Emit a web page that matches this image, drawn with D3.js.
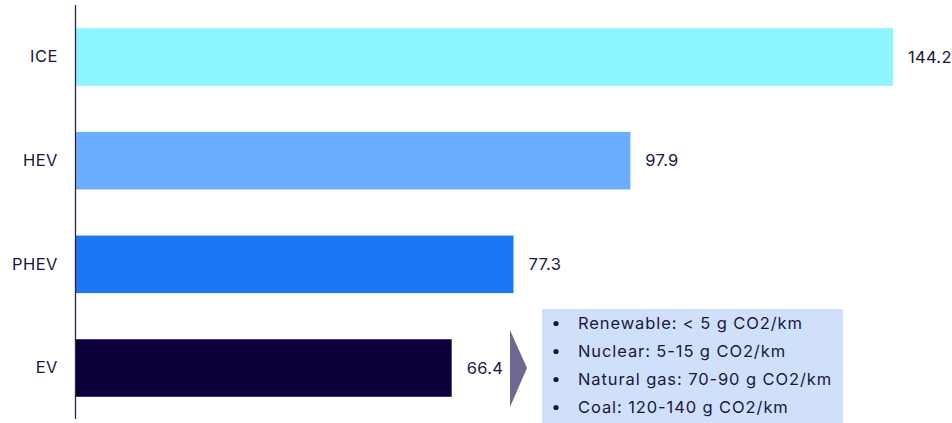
<!DOCTYPE html>
<html>
<head>
<meta charset="utf-8">
<script src="https://cdn.jsdelivr.net/npm/d3@7"></script>
<style>
  html, body { margin: 0; padding: 0; background: #fff; }
  svg { display: block; font-family: Inter, "Noto Sans", sans-serif; }
</style>
</head>
<body>
<svg id="chart" width="952" height="423"></svg>
<script>
// Lifecycle CO2 emissions by powertrain (g CO2/km)
const categories = ["ICE", "HEV", "PHEV", "EV"];
const values = [144.2, 97.9, 77.3, 66.4];
const barColors = ["#8cf5ff", "#6aaeff", "#1a76f3", "#0d003a"];
const gridMixNotes = [
  "Renewable: < 5 g CO2/km",
  "Nuclear: 5-15 g CO2/km",
  "Natural gas: 70-90 g CO2/km",
  "Coal: 120-140 g CO2/km"
];

const textColor = "#1b1641";
const font = "Inter, 'Noto Sans', sans-serif";
const svg = d3.select("#chart");

const x = d3.scaleLinear().domain([0, 144.2]).range([75, 893]);
const y = d3.scaleBand().domain(categories).range([5, 420])
  .paddingInner(0.445).paddingOuter(0.224);

// bars
svg.append("g").selectAll("rect")
  .data(categories)
  .join("rect")
  .attr("x", x(0))
  .attr("y", d => y(d))
  .attr("width", (d, i) => x(values[i]) - x(0))
  .attr("height", y.bandwidth())
  .attr("fill", (d, i) => barColors[i]);

// category axis
const axis = svg.append("g")
  .attr("transform", `translate(${x(0)},0)`)
  .call(d3.axisLeft(y).tickSize(0).tickPadding(17));
axis.attr("font-size", null).attr("font-family", null);
axis.select(".domain").attr("d", "M0.5,5V419").attr("stroke", "#2a2550").attr("stroke-width", 1.3);
axis.selectAll("text")
  .style("font-size", "16.5px")
  .style("font-family", font)
  .style("letter-spacing", "0.5px")
  .attr("fill", textColor);

// value labels
svg.append("g").selectAll("text")
  .data(categories)
  .join("text")
  .attr("x", (d, i) => x(values[i]) + 15)
  .attr("y", d => y(d) + y.bandwidth() / 2)
  .attr("dy", "0.35em")
  .style("font-size", "16.5px")
  .style("letter-spacing", "0.3px")
  .attr("fill", textColor)
  .text((d, i) => values[i].toFixed(1));

// arrow pointing from EV bar to the grid-mix note
const evMid = y("EV") + y.bandwidth() / 2;
svg.append("path")
  .attr("d", `M510,${evMid - 38}L527,${evMid}L510,${evMid + 39}Z`)
  .attr("fill", "#6e6890");

// grid-mix note box
const note = svg.append("g");
note.append("rect")
  .attr("x", 542).attr("y", 309)
  .attr("width", 301).attr("height", 114)
  .attr("fill", "#d0e0fa");
const lines = note.selectAll("g.line")
  .data(gridMixNotes)
  .join("g")
  .attr("class", "line")
  .attr("transform", (d, i) => `translate(0,${323.5 + i * 28})`);
lines.append("circle")
  .attr("cx", 556).attr("cy", 0).attr("r", 2.6)
  .attr("fill", textColor);
lines.append("text")
  .attr("x", 578).attr("dy", "0.35em")
  .style("font-size", "16.5px")
  .style("letter-spacing", "0.9px")
  .attr("fill", textColor)
  .text(d => d);
</script>
</body>
</html>
